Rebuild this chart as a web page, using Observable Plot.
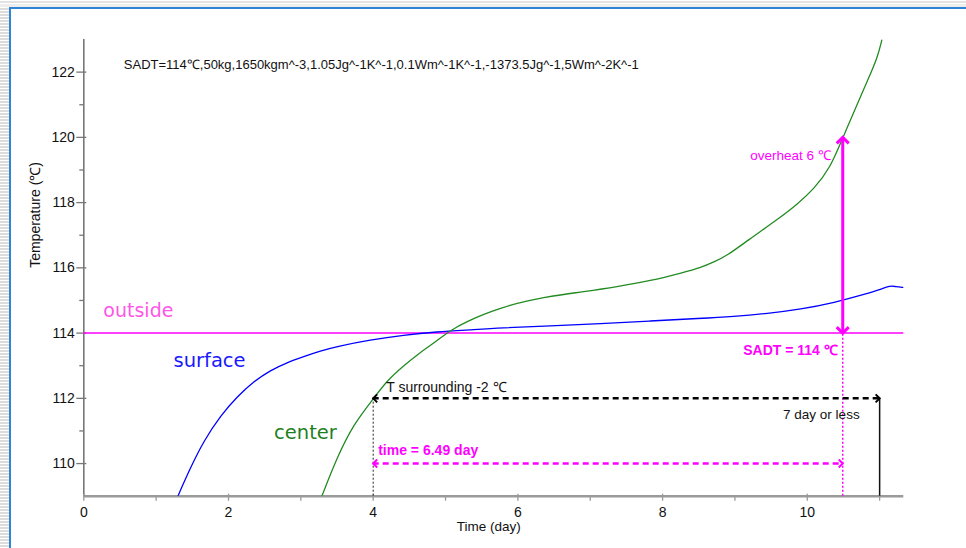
<!DOCTYPE html>
<html>
<head>
<meta charset="utf-8">
<script src="https://cdn.jsdelivr.net/npm/d3@7"></script>
<script src="https://cdn.jsdelivr.net/npm/@observablehq/plot@0.6"></script>
<style>
  html, body { margin: 0; padding: 0; background: #fff; }
  #wrap { position: relative; width: 966px; height: 548px; overflow: hidden; }
  #chart svg { display: block; }
  .deco { position: absolute; pointer-events: none; }
</style>
</head>
<body>
<div id="wrap">
  <div id="chart"></div>
  <!-- window frame: grey strip on top, striped margin on the left, blue border -->
  <div class="deco" style="left:0;top:0;width:966px;height:7px;background:linear-gradient(#fff 0 1px,#e2e2e2 1px 3px,#fff 3px 4px,#ededed 4px 7px)"></div>
  <div class="deco" style="left:0;top:7px;width:9px;height:541px;background:repeating-linear-gradient(#ffffff 0 1px,#dcdcdc 1px 3px)"></div>
  <div class="deco" style="left:9px;top:7px;width:957px;height:2px;background:#2f84d6"></div>
  <div class="deco" style="left:9px;top:7px;width:2px;height:541px;background:#2f84d6"></div>
</div>
<script>
// Simulated temperatures (°C) over time (days)
const surfaceDay  = [1.30, 1.475, 1.66, 1.89, 2.12, 2.35, 2.58, 2.81, 3.04, 3.27, 3.50, 3.96, 4.42, 4.88, 5.34, 5.76, 6.45, 7.14, 7.83, 8.52, 8.98, 9.45, 9.91, 10.37, 10.83, 11.00, 11.15, 11.22, 11.33];
const surfaceTemp = [109.0, 109.88, 110.70, 111.47, 112.05, 112.52, 112.86, 113.10, 113.28, 113.45, 113.59, 113.79, 113.94, 114.04, 114.10, 114.16, 114.22, 114.29, 114.37, 114.45, 114.51, 114.60, 114.73, 114.93, 115.21, 115.33, 115.46, 115.42, 115.40];
const centerDay   = [3.29, 3.50, 3.73, 4.00, 4.19, 4.42, 4.65, 4.88, 5.07, 5.30, 5.53, 5.76, 5.99, 6.22, 6.45, 6.91, 7.37, 7.83, 8.29, 8.52, 8.71, 8.89, 9.17, 9.63, 9.86, 10.09, 10.32, 10.49, 10.69, 10.83, 10.97, 11.03];
const centerTemp  = [109.0, 110.19, 111.21, 111.98, 112.54, 113.00, 113.41, 113.76, 114.09, 114.36, 114.58, 114.76, 114.92, 115.03, 115.13, 115.27, 115.42, 115.60, 115.86, 116.00, 116.18, 116.37, 116.83, 117.55, 117.95, 118.41, 119.07, 119.99, 121.01, 121.73, 122.44, 122.98];

const xTicks      = [0, 2, 4, 6, 8, 10];
const xMinorTicks = [1, 3, 5, 7, 9, 11];
const yTicks      = [110, 112, 114, 116, 118, 120, 122];
const yMinorTicks = [111, 113, 115, 117, 119, 121];

const xDomain = [0, 11.334];
const yDomain = [109, 123];

const sadt         = 114;    // self-accelerating decomposition temperature
const surroundTemp = 112;    // surrounding temperature, SADT - 2
const overheatTemp = 120;    // center temperature at the end of the test
const spanTemp     = 110;    // level of the elapsed-time arrow
const onsetDay     = 4;
const overheatDay  = 10.49;
const limitDay     = 11;

const header = "SADT=114\u2103,50kg,1650kgm^-3,1.05Jg^-1K^-1,0.1Wm^-1K^-1,-1373.5Jg^-1,5Wm^-2K^-1";

const surface = surfaceDay.map((x, i) => ({x, t: surfaceTemp[i]}));
const center  = centerDay.map((x, i) => ({x, t: centerTemp[i]}));

// open arrowhead, tip at the anchor point, pointing to +x before rotation
const chevron = {
  draw(ctx, size) {
    const r = Math.sqrt(size / Math.PI);
    ctx.moveTo(-r, -r);
    ctx.lineTo(0, 0);
    ctx.lineTo(-r, r);
  }
};

const magenta = "#ff00ff";
const sans = "'Liberation Sans', Arial, Helvetica, sans-serif";
const round = "'DejaVu Sans', sans-serif";

const plot = Plot.plot({
  width: 966,
  height: 548,
  marginLeft: 83.3,
  marginRight: 62.7,
  marginTop: 39,
  marginBottom: 52.3,
  x: {domain: xDomain, axis: null},
  y: {domain: yDomain, axis: null},
  style: {fontFamily: sans, color: "#111", background: "transparent"},
  marks: [
    // axis lines
    Plot.ruleY([yDomain[0]], {stroke: "#9a9a9a", strokeWidth: 2.5}),
    Plot.ruleX([xDomain[0]], {stroke: "#777", strokeWidth: 1.6}),
    Plot.axisY(yTicks, {tickSize: 10, dx: 3, tickPadding: 2, fontSize: 14, stroke: "#777", strokeWidth: 1.3, label: null}),
    Plot.axisY(yMinorTicks, {tickSize: 4, tickFormat: () => "", stroke: "#777", strokeWidth: 1.3, label: null}),
    Plot.axisX(xTicks, {tickSize: 7, dy: -2, tickPadding: 6, fontSize: 14, stroke: "#9a9a9a", strokeWidth: 1.3, label: null}),
    Plot.axisX(xMinorTicks, {tickSize: 5, tickFormat: () => "", stroke: "#9a9a9a", strokeWidth: 1.3, label: null}),
    Plot.text(["Temperature (\u2103)"], {text: d => d, frameAnchor: "left", dx: -48, rotate: -90, fontSize: 14}),
    Plot.text(["Time (day)"], {text: d => d, frameAnchor: "bottom", dx: -5, dy: 35, fontSize: 13.5}),
    Plot.text([header], {text: d => d, frameAnchor: "top-left", dx: 40, dy: 20, textAnchor: "start", fontSize: 13}),

    // outside temperature held at SADT
    Plot.ruleY([sadt], {stroke: magenta, strokeWidth: 1.5}),

    // temperature curves
    Plot.line(surface, {x: "x", y: "t", stroke: "#0000ff", strokeWidth: 1.3, curve: "basis", clip: true}),
    Plot.line(center, {x: "x", y: "t", stroke: "#228b22", strokeWidth: 1.3, curve: "basis", clip: true}),

    // guides down to the time axis
    Plot.ruleX([onsetDay], {y1: yDomain[0], y2: surroundTemp, stroke: "#222", strokeWidth: 1, strokeDasharray: "2,2"}),
    Plot.ruleX([limitDay], {y1: yDomain[0], y2: surroundTemp, stroke: "#111", strokeWidth: 1.5}),
    Plot.ruleX([overheatDay], {y1: yDomain[0], y2: sadt, stroke: magenta, strokeWidth: 1.5, strokeDasharray: "2,2"}),

    // overheat arrow
    Plot.ruleX([overheatDay], {y1: sadt, y2: overheatTemp, stroke: magenta, strokeWidth: 3}),
    Plot.dot([{x: overheatDay, y: overheatTemp, a: -90}, {x: overheatDay, y: sadt, a: 90}],
      {x: "x", y: "y", rotate: "a", symbol: chevron, r: 6, fill: "none", stroke: magenta, strokeWidth: 3}),

    // surrounding-temperature span
    Plot.ruleY([surroundTemp], {x1: onsetDay, x2: limitDay, stroke: "#000", strokeWidth: 2.5, strokeDasharray: "6,4"}),
    Plot.dot([{x: onsetDay, y: surroundTemp, a: 180}, {x: limitDay, y: surroundTemp, a: 0}],
      {x: "x", y: "y", rotate: "a", symbol: chevron, r: 4, fill: "none", stroke: "#000", strokeWidth: 2}),

    // elapsed time span
    Plot.ruleY([spanTemp], {x1: onsetDay, x2: overheatDay, stroke: magenta, strokeWidth: 2.5, strokeDasharray: "6,4"}),
    Plot.dot([{x: onsetDay, y: spanTemp, a: 180}, {x: overheatDay, y: spanTemp, a: 0}],
      {x: "x", y: "y", rotate: "a", symbol: chevron, r: 4, fill: "none", stroke: magenta, strokeWidth: 2}),

    // labels
    Plot.text(["outside"], {text: d => d, x: 0.27, y: sadt, dy: -22, textAnchor: "start", fontSize: 19, fontFamily: round, fill: "#ff55e8"}),
    Plot.text(["surface"], {text: d => d, x: 1.24, y: 113.15, textAnchor: "start", fontSize: 19.5, fontFamily: round, fill: "#1818ff"}),
    Plot.text(["center"], {text: d => d, x: 2.63, y: 110.95, textAnchor: "start", fontSize: 19.5, fontFamily: round, fill: "#1f7f1f"}),
    Plot.text([`overheat ${overheatTemp - sadt} \u2103`], {text: d => d, x: overheatDay, y: overheatTemp, dx: -12, dy: 18, textAnchor: "end", fontSize: 13.5, fill: magenta}),
    Plot.text([`SADT = ${sadt} \u2103`], {text: d => d, x: overheatDay, y: sadt, dx: -5, dy: 17, textAnchor: "end", fontSize: 14, fontWeight: "bold", fill: magenta}),
    Plot.text([`T surrounding ${surroundTemp - sadt} \u2103`], {text: d => d, x: onsetDay, y: surroundTemp, dx: 13, dy: -11, textAnchor: "start", fontSize: 14, fill: "#111"}),
    Plot.text([`${limitDay - onsetDay} day or less`], {text: d => d, x: limitDay, y: surroundTemp, dx: -20, dy: 16, textAnchor: "end", fontSize: 13.5, fill: "#111"}),
    Plot.text([`time = ${(overheatDay - onsetDay).toFixed(2)} day`], {text: d => d, x: onsetDay, y: spanTemp, dx: 5, dy: -13, textAnchor: "start", fontSize: 14, fontWeight: "bold", fill: magenta})
  ]
});

document.getElementById("chart").appendChild(plot);
</script>
</body>
</html>
